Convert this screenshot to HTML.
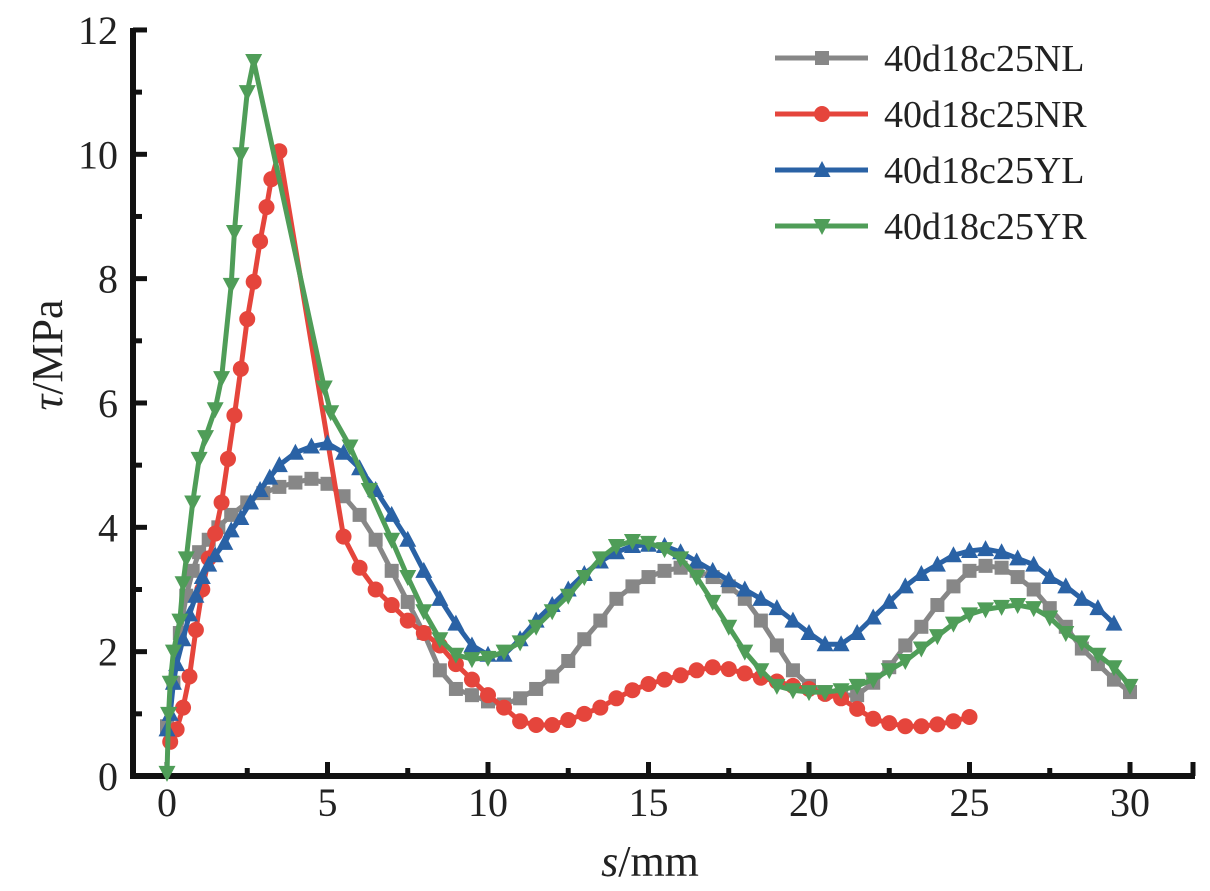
<!DOCTYPE html>
<html><head><meta charset="utf-8"><style>
html,body{margin:0;padding:0;background:#fff;width:1210px;height:891px;overflow:hidden}
svg{display:block;font-family:"Liberation Serif",serif}
</style></head><body>
<svg id="chart" width="1210" height="891" viewBox="0 0 1210 891"></svg>
<script>
const xTicks=[0,5,10,15,20,25,30];
const yTicks=[0,2,4,6,8,10,12];
const seriesNames=["40d18c25NL","40d18c25NR","40d18c25YL","40d18c25YR"];
const nlX=[0,0.2,0.4,0.6,0.8,1.0,1.3,1.6,2.0,2.5,3.0,3.5,4.0,4.5,5.0,5.5,6.0,6.5,7.0,7.5,8.0,8.5,9.0,9.5,10.0,10.5,11.0,11.5,12.0,12.5,13.0,13.5,14.0,14.5,15.0,15.5,16.0,16.5,17.0,17.5,18.0,18.5,19.0,19.5,20.0,20.5,21.0,21.5,22.0,22.5,23.0,23.5,24.0,24.5,25.0,25.5,26.0,26.5,27.0,27.5,28.0,28.5,29.0,29.5,30.0];
const nlY=[0.8,1.5,2.3,2.9,3.3,3.6,3.8,4.0,4.2,4.4,4.55,4.65,4.72,4.78,4.7,4.5,4.2,3.8,3.3,2.8,2.3,1.7,1.4,1.3,1.2,1.15,1.25,1.4,1.6,1.85,2.2,2.5,2.85,3.05,3.2,3.3,3.35,3.3,3.2,3.05,2.85,2.5,2.1,1.7,1.45,1.35,1.3,1.3,1.5,1.75,2.1,2.4,2.75,3.05,3.3,3.38,3.35,3.2,3.0,2.7,2.4,2.05,1.8,1.55,1.35];
const nrX=[0.1,0.3,0.5,0.7,0.9,1.1,1.3,1.5,1.7,1.9,2.1,2.3,2.5,2.7,2.9,3.1,3.25,3.5,5.5,6.0,6.5,7.0,7.5,8.0,8.5,9.0,9.5,10.0,10.5,11.0,11.5,12.0,12.5,13.0,13.5,14.0,14.5,15.0,15.5,16.0,16.5,17.0,17.5,18.0,18.5,19.0,19.5,20.0,20.5,21.0,21.5,22.0,22.5,23.0,23.5,24.0,24.5,25.0];
const nrY=[0.55,0.75,1.1,1.6,2.35,3.0,3.5,3.9,4.4,5.1,5.8,6.55,7.35,7.95,8.6,9.15,9.6,10.05,3.85,3.35,3.0,2.75,2.5,2.3,2.1,1.8,1.55,1.3,1.1,0.88,0.82,0.82,0.9,1.0,1.1,1.25,1.38,1.48,1.55,1.62,1.7,1.75,1.72,1.65,1.58,1.52,1.45,1.4,1.32,1.25,1.08,0.92,0.85,0.8,0.8,0.83,0.88,0.95];
const ylX=[0,0.1,0.2,0.3,0.5,0.7,0.9,1.1,1.3,1.5,1.8,2.0,2.3,2.6,2.9,3.2,3.5,4.0,4.5,5.0,5.5,6.0,6.5,7.0,7.5,8.0,8.5,9.0,9.5,10.0,10.5,11.0,11.5,12.0,12.5,13.0,13.5,14.0,14.5,15.0,15.5,16.0,16.5,17.0,17.5,18.0,18.5,19.0,19.5,20.0,20.5,21.0,21.5,22.0,22.5,23.0,23.5,24.0,24.5,25.0,25.5,26.0,26.5,27.0,27.5,28.0,28.5,29.0,29.5];
const ylY=[0.75,1.0,1.5,1.8,2.2,2.6,2.9,3.2,3.4,3.55,3.75,3.95,4.15,4.4,4.6,4.8,5.0,5.2,5.3,5.35,5.2,4.95,4.6,4.2,3.8,3.3,2.85,2.45,2.1,1.95,1.95,2.2,2.5,2.75,3.0,3.25,3.45,3.6,3.7,3.72,3.7,3.6,3.45,3.3,3.15,3.0,2.85,2.7,2.5,2.3,2.12,2.12,2.3,2.55,2.8,3.05,3.25,3.4,3.55,3.62,3.65,3.6,3.5,3.4,3.2,3.05,2.85,2.7,2.45];
const yrX=[0,0.05,0.1,0.2,0.4,0.5,0.6,0.8,1.0,1.2,1.5,1.7,2.0,2.1,2.3,2.5,2.7,4.9,5.1,5.7,6.3,7.0,7.5,8.0,8.5,9.0,9.5,10.0,10.5,11.0,11.5,12.0,12.5,13.0,13.5,14.0,14.5,15.0,15.5,16.0,16.5,17.0,17.5,18.0,18.5,19.0,19.5,20.0,20.5,21.0,21.5,22.0,22.5,23.0,23.5,24.0,24.5,25.0,25.5,26.0,26.5,27.0,27.5,28.0,28.5,29.0,29.5,30.0];
const yrY=[0.05,1.0,1.5,2.0,2.5,3.1,3.5,4.4,5.1,5.45,5.9,6.4,7.9,8.75,10.0,11.0,11.5,6.25,5.85,5.3,4.6,3.8,3.2,2.65,2.2,1.95,1.88,1.9,2.0,2.15,2.4,2.65,2.9,3.2,3.5,3.7,3.78,3.75,3.65,3.5,3.2,2.8,2.4,2.0,1.7,1.45,1.38,1.35,1.35,1.38,1.45,1.55,1.7,1.85,2.05,2.25,2.45,2.6,2.68,2.72,2.75,2.7,2.55,2.3,2.15,1.95,1.75,1.45];

const NS="http://www.w3.org/2000/svg";
const svg=document.getElementById("chart");
const X0=167,XS=32.1,Y0=776,YS=62.17;
const sx=v=>X0+v*XS, sy=v=>Y0-v*YS;
function mk(tag,attrs,parent){const e=document.createElementNS(NS,tag);for(const k in attrs)e.setAttribute(k,attrs[k]);(parent||svg).appendChild(e);return e;}

const axes=mk("g",{});


mk("line",{x1:133,y1:776,x2:1195,y2:776,stroke:"#111","stroke-width":6},axes);
mk("line",{x1:133,y1:28,x2:133,y2:779,stroke:"#111","stroke-width":6},axes);
for(let v=0;v<=12;v++){const y=sy(v);mk("line",{x1:133,y1:y,x2:v%2?142:147,y2:y,stroke:"#111","stroke-width":5},axes);}
for(let v=0;v<=32.5;v+=2.5){const x=sx(v);if(x>1196)break;mk("line",{x1:x,y1:776,x2:x,y2:v%5?768:762,stroke:"#111","stroke-width":5},axes);}
mk("line",{x1:1193,y1:776,x2:1193,y2:762,stroke:"#111","stroke-width":5},axes);
xTicks.forEach(v=>{const t=mk("text",{x:sx(v),y:816,"text-anchor":"middle","font-size":40,fill:"#222"},axes);t.textContent=v;

});
yTicks.forEach(v=>{const t=mk("text",{x:118,y:sy(v)+14,"text-anchor":"end","font-size":40,fill:"#222"},axes);t.textContent=v;

});
const xt=mk("text",{x:650,y:876,"text-anchor":"middle","font-size":44,fill:"#222"});
xt.innerHTML='<tspan font-style="italic">s</tspan>/mm';


const yt=mk("text",{x:0,y:0,"text-anchor":"middle","font-size":44,fill:"#222",transform:"translate(62,355) rotate(-90)"});
yt.innerHTML='<tspan font-style="italic">τ</tspan>/MPa';



function marker(g,type,x,y,c){
 if(type==="sq")mk("rect",{x:x-7,y:y-7,width:14,height:14,fill:c},g);
 else if(type==="ci")mk("circle",{cx:x,cy:y,r:8,fill:c},g);
 else if(type==="up")mk("polygon",{points:`${x},${y-9} ${x-8.5},${y+7} ${x+8.5},${y+7}`,fill:c},g);
 else mk("polygon",{points:`${x},${y+9} ${x-8.5},${y-7} ${x+8.5},${y-7}`,fill:c},g);
}
const defs=[[nlX,nlY,"#878787","sq","series-nl"],[nrX,nrY,"#e5453c","ci","series-nr"],[ylX,ylY,"#2a62a5","up","series-yl"],[yrX,yrY,"#4f9d58","dn","series-yr"]];
[0,1,2,3].forEach(i=>{const [xs,ys,c,m,n]=defs[i];const g=mk("g",{});


mk("polyline",{points:xs.map((v,k)=>sx(v)+","+sy(ys[k])).join(" "),fill:"none",stroke:c,"stroke-width":5,"stroke-linejoin":"round"},g);
xs.forEach((v,k)=>marker(g,m,sx(v),sy(ys[k]),c));});

const legPos=[58,114,170,226];
defs.forEach((d,i)=>{const g=mk("g",{});


mk("line",{x1:775,y1:legPos[i],x2:868,y2:legPos[i],stroke:d[2],"stroke-width":5},g);
marker(g,d[3],822,legPos[i],d[2]);
const t=mk("text",{x:884,y:legPos[i]+13,"font-size":38,fill:"#222"},g);t.textContent=seriesNames[i];});
</script>
</body></html>
